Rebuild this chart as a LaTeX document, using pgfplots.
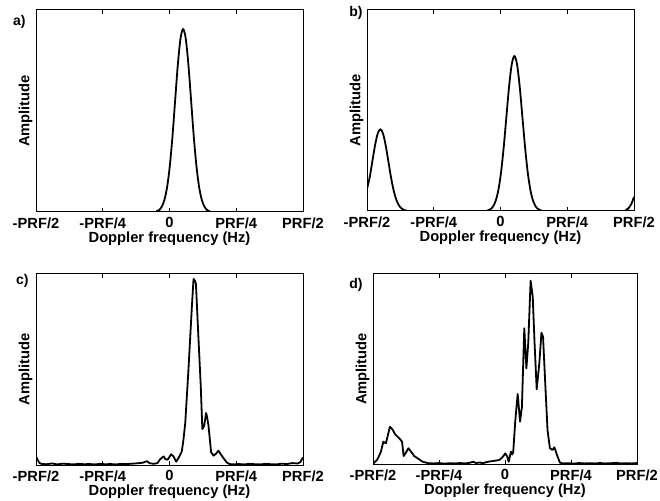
\documentclass[border=0pt]{standalone}
\usepackage{fontspec}
\setmainfont{Liberation Sans}
\usepackage{pgfplots}
\pgfplotsset{compat=1.18}

\pgfplotsset{
  dop/.style={
    scale only axis, anchor=south west, clip mode=individual,
    xmin=-0.5, xmax=0.5, ymin=0, ymax=1,
    xtick={-0.5,-0.25,0,0.25,0.5},
    xticklabels={-PRF/2,-PRF/4,0,PRF/4,PRF/2},
    ytick=\empty,
    tick align=inside,
    major tick length=4pt,
    axis line style={line width=1pt},
    every tick/.style={black, line width=0.8pt},
    tick label style={font=\fontsize{14.7}{17}\selectfont\bfseries},
    xticklabel style={yshift=-2pt},
    label style={font=\fontsize{14.7}{17}\selectfont\bfseries},
    xlabel={Doppler frequency (Hz)},
    xlabel style={yshift=3.5pt},
    ylabel={Amplitude},
  },
}
\tikzset{
  curve/.style={black, line width=1.8pt, line join=round},
  panel/.style={font=\fontsize{14}{16}\selectfont\bfseries, anchor=east},
}

\begin{document}
\begin{tikzpicture}
\useasboundingbox (0,0) rectangle (660pt,500pt);

% a)
\begin{axis}[dop, at={(36pt,288pt)}, width=267pt, height=202pt]
\addplot[curve, smooth] coordinates {
(-0.5,0) (-0.059,0) (-0.049,0.0035) (-0.039,0.010) (-0.029,0.026) (-0.019,0.060)
(-0.009,0.123) (0.001,0.226) (0.011,0.372) (0.021,0.550) (0.031,0.726)
(0.041,0.857) (0.051,0.906) (0.061,0.857) (0.071,0.726) (0.081,0.550)
(0.091,0.372) (0.101,0.226) (0.111,0.123) (0.121,0.060) (0.131,0.026)
(0.141,0.010) (0.151,0.0035) (0.161,0) (0.5,0)};
\node[panel] at (rel axis cs:0,0.943) [xshift=-7pt] {a)};
\end{axis}

% b)
\begin{axis}[dop, at={(367pt,289pt)}, width=267pt, height=201pt]
\addplot[curve, smooth] coordinates {
(-0.5,0.11) (-0.49,0.167) (-0.48,0.247) (-0.47,0.326) (-0.46,0.385) (-0.45,0.407)
(-0.44,0.385) (-0.43,0.326) (-0.42,0.247) (-0.41,0.167) (-0.40,0.101)
(-0.39,0.055) (-0.38,0.027) (-0.37,0.012) (-0.36,0.0045) (-0.35,0.0016) (-0.34,0)
(-0.058,0) (-0.048,0.003) (-0.038,0.0086) (-0.028,0.022) (-0.018,0.051)
(-0.008,0.104) (0.002,0.192) (0.012,0.317) (0.022,0.468) (0.032,0.618)
(0.042,0.729) (0.052,0.771) (0.062,0.729) (0.072,0.618) (0.082,0.468)
(0.092,0.317) (0.102,0.192) (0.112,0.104) (0.122,0.051) (0.132,0.022)
(0.142,0.0086) (0.152,0.003) (0.162,0) (0.46,0) (0.47,0.005) (0.48,0.015)
(0.49,0.035) (0.5,0.07)};
\node[panel] at (rel axis cs:0,0.985) [xshift=-1pt] {b)};
\end{axis}

% c)
\begin{axis}[dop, at={(36pt,35pt)}, width=267pt, height=191pt]
\addplot[curve] coordinates {
(-0.5,0.045) (-0.495,0.03) (-0.488,0.012) (-0.48,0.006) (-0.46,0.004)
(-0.44,0.008) (-0.42,0.003) (-0.40,0.007) (-0.38,0.005) (-0.36,0.003)
(-0.34,0.006) (-0.32,0.004) (-0.30,0.005) (-0.28,0.003) (-0.26,0.006)
(-0.24,0.004) (-0.22,0.005) (-0.20,0.003) (-0.18,0.006) (-0.16,0.005)
(-0.14,0.007) (-0.12,0.009) (-0.10,0.012) (-0.085,0.02) (-0.075,0.01)
(-0.06,0.006) (-0.045,0.01) (-0.035,0.03) (-0.022,0.045) (-0.015,0.03)
(-0.007,0.028) (0.006,0.056) (0.015,0.045) (0.025,0.017) (0.035,0.04)
(0.046,0.07) (0.052,0.13) (0.059,0.22) (0.071,0.50) (0.084,0.834)
(0.090,0.974) (0.095,0.965) (0.099,0.948) (0.108,0.677) (0.117,0.415)
(0.123,0.188) (0.130,0.206) (0.137,0.272) (0.141,0.25) (0.146,0.206)
(0.156,0.066) (0.165,0.049) (0.175,0.06) (0.183,0.075) (0.2,0.04)
(0.214,0.014) (0.225,0.005) (0.24,0.003) (0.26,0.005) (0.28,0.003)
(0.30,0.006) (0.32,0.004) (0.34,0.003) (0.36,0.006) (0.38,0.004)
(0.40,0.003) (0.42,0.007) (0.44,0.005) (0.46,0.01) (0.48,0.008)
(0.49,0.015) (0.5,0.04)};
\node[panel] at (rel axis cs:0,0.963) [xshift=-4pt] {c)};
\end{axis}

% d)
\begin{axis}[dop, at={(373pt,36pt)}, width=264pt, height=190pt]
\addplot[curve] coordinates {
(-0.5,0) (-0.483,0.025) (-0.470,0.065) (-0.461,0.117) (-0.451,0.109)
(-0.445,0.144) (-0.436,0.196) (-0.426,0.182) (-0.417,0.158) (-0.407,0.144)
(-0.397,0.13) (-0.39,0.117) (-0.384,0.042) (-0.377,0.056) (-0.366,0.083)
(-0.356,0.065) (-0.344,0.042) (-0.331,0.03) (-0.312,0.012) (-0.29,0.004)
(-0.27,0.003) (-0.25,0.005) (-0.23,0.002) (-0.21,0.004) (-0.19,0.003)
(-0.17,0.005) (-0.15,0.003) (-0.135,0.006) (-0.12,0.012) (-0.11,0.005)
(-0.095,0.008) (-0.085,0.004) (-0.07,0.01) (-0.059,0.013) (-0.04,0.017)
(-0.022,0.021) (-0.01,0.035) (0.001,0.056) (0.008,0.04) (0.014,0.012)
(0.019,0.045) (0.023,0.065) (0.027,0.05) (0.031,0.06) (0.039,0.23)
(0.048,0.368) (0.057,0.223) (0.064,0.30) (0.073,0.714) (0.081,0.504)
(0.088,0.635) (0.097,0.965) (0.105,0.88) (0.112,0.635) (0.12,0.393)
(0.13,0.53) (0.138,0.691) (0.144,0.67) (0.153,0.407) (0.161,0.179)
(0.170,0.083) (0.180,0.074) (0.187,0.088) (0.197,0.047) (0.208,0.007)
(0.22,0.003) (0.24,0.004) (0.26,0.002) (0.28,0.005) (0.30,0.003)
(0.32,0.004) (0.34,0.003) (0.36,0.005) (0.38,0.003) (0.40,0.004)
(0.42,0.006) (0.44,0.003) (0.46,0.004) (0.48,0.003) (0.5,0.005)};
\node[panel] at (rel axis cs:0,0.945) [xshift=-7pt] {d)};
\end{axis}
\end{tikzpicture}
\end{document}
